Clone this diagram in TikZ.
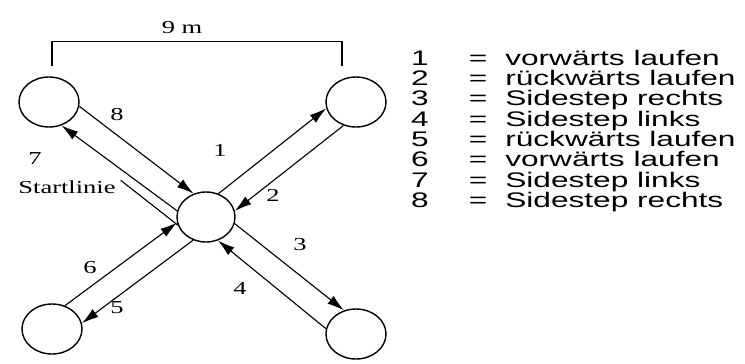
\documentclass[tikz,border=0pt]{standalone}
\usepackage{fontspec}
\setmainfont{Liberation Serif}
\newfontfamily\labelfont[FakeStretch=1.45]{Liberation Serif}
\newfontfamily\legendfont[FakeStretch=1.5]{Liberation Sans}
\usetikzlibrary{arrows.meta,shapes.geometric}

\tikzset{
	cone/.style={draw, ellipse, fill=white, line width=1pt,
		minimum width=1.5cm, minimum height=1.25cm},
	run/.style={-{Latex[length=12pt,width=7pt]}, line width=0.8pt},
	num/.style={font=\labelfont\fontsize{13}{15}\selectfont, inner sep=0pt},
	legend/.style={font=\legendfont\fontsize{15}{16}\selectfont, inner sep=0pt}
}

\begin{document}
\begin{tikzpicture}[x=0.025cm, y=-0.025cm]

	\useasboundingbox (0,0) rectangle (745,363);

	% cones
	\node[cone] (TL) at (49,102) {};
	\node[cone] (TR) at (356,102) {};
	\node[cone,
	minimum width=1.45cm] (C) at (206,217) {};
	\node[cone] (BL) at (52,329) {};
	\node[cone] (BR) at (356,334) {};

	% 9 m
	\draw[line width=1.1pt] ([xshift=0.07cm, yshift=0.25cm]TL.north) -- ++(0,-25)
		-| ([xshift=-0.35cm, yshift=0.25cm]TR.north);
	\node[num] (dist) at (182,28) {9 m};

	% runs
	\draw[run] (C.62.5) -- (TR.192.5);
	\draw[run] (TR.242.5) -- (C.12.5);
	\draw[run] (C.347) -- (BR.117);
	\draw[run] (BR.170) -- (C.297);
	\draw[run] (C.241) -- (BL.11);
	\draw[run] (BL.61) -- (C.191);
	\draw[run] (C.168) -- (TL.298);
	\draw[run] (TL.352) -- (C.118);

	\node[num] (n1) at (220,150) {1};
	\node[num] (n2) at (273,195) {2};
	\node[num] (n3) at (300,245) {3};
	\node[num] (n4) at (240,288) {4};
	\node[num] (n5) at (117,308) {5};
	\node[num] (n6) at (90,268) {6};
	\node[num] (n7) at (35,159) {7};
	\node[num] (n8) at (117,115) {8};

	\node[num] (startl) at (67,187) {Startlinie};
	\draw[line width=0.8pt] ([xshift=0.12cm]startl.north east) -- (C.196);

	% legend
	\foreach \i/\txt in {1/vorwärts laufen, 2/rückwärts laufen, 3/Sidestep rechts,
		4/Sidestep links, 5/rückwärts laufen, 6/vorwärts laufen, 7/Sidestep links,
		8/Sidestep rechts} {
		\node[legend, anchor=base] (k\i) at (420,{65.2+(\i-1)*20.3}) {\i};
		\node[legend, anchor=base] (e\i) at (478,{65.2+(\i-1)*20.3}) {=};
		\node[legend, anchor=base west] (l\i) at (505,{65.2+(\i-1)*20.3}) {\txt};
	}

\end{tikzpicture}
\end{document}
